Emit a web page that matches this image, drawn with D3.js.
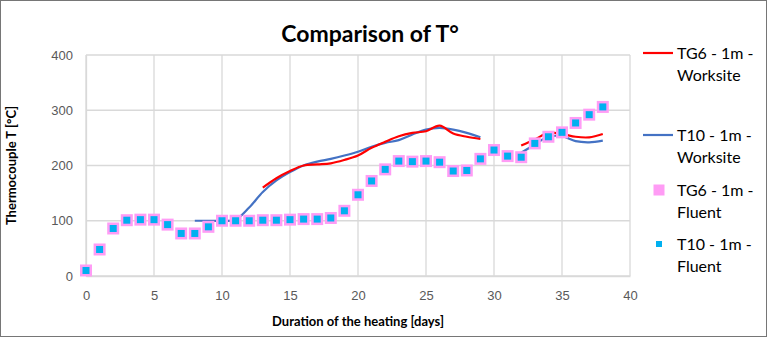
<!DOCTYPE html>
<html>
<head>
<meta charset="utf-8">
<script src="https://cdn.jsdelivr.net/npm/d3@7"></script>
<style>
  body { margin: 0; background: #fff; }
  svg { font-family: Lato, "Open Sans", sans-serif; }
</style>
</head>
<body>
<div id="chart-area"></div>
<script>
// Data
var days = d3.range(0, 39);
// TG6 worksite (red line), null = no reading
var tg6Worksite = [null, null, null, null, null, null, null, null, null, null, null, null, null,
    160, 177, 190, 200, 202, 204, 210, 218, 232, 243, 253, 259, 262, 272, 258, 252, 248,
    null, null, 236, 247, 259, 257, 252, 251, 257];
// T10 worksite (blue line)
var t10Worksite = [null, null, null, null, null, null, null, null,
    100, 100, 100, 102, 124, 152, 173, 188, 200, 207, 212, 218, 225, 234, 241, 246, 256, 265, 268, 265, 259, 251,
    null, null, 223, 238, 252, 253, 244, 242, 245];
// Fluent simulations (same values for both sensors)
var tg6Fluent = [10, 48, 86, 101, 102, 102, 93, 77, 77, 89, 100, 100, 100, 101, 101, 102, 103, 103, 105, 118,
    147, 172, 193, 208, 207, 208, 206, 190, 191, 212, 228, 217, 215, 240, 252, 260, 277, 292, 306];
var t10Fluent = tg6Fluent.slice();

var xTicks = [0, 5, 10, 15, 20, 25, 30, 35, 40];
var yTicks = [0, 100, 200, 300, 400];

var W = 767, H = 337;
var margin = { top: 55, right: 137, bottom: 61, left: 86 },
    width  = W - margin.left - margin.right,
    height = H - margin.top - margin.bottom;

var svg = d3.select("#chart-area")
    .append("svg")
    .attr("width", W)
    .attr("height", H);

// outer frame
svg.append("rect")
    .attr("x", 0.5).attr("y", 0.5)
    .attr("width", W - 1).attr("height", H - 1)
    .attr("fill", "#fff")
    .attr("stroke", "#767676");

var g = svg.append("g")
    .attr("transform", "translate(" + margin.left + "," + margin.top + ")");

var xScale = d3.scaleLinear().domain([0, 40]).range([0, width]);
var yScale = d3.scaleLinear().domain([0, 400]).range([height, 0]);

// gridlines
g.selectAll(".hgrid").data(yTicks).enter().append("line")
    .attr("x1", 0).attr("x2", width)
    .attr("y1", function(d) { return yScale(d); })
    .attr("y2", function(d) { return yScale(d); })
    .attr("stroke", "#d9d9d9").attr("stroke-width", 1.3);
g.selectAll(".vgrid").data(xTicks).enter().append("line")
    .attr("y1", 0).attr("y2", height)
    .attr("x1", function(d) { return xScale(d); })
    .attr("x2", function(d) { return xScale(d); })
    .attr("stroke", "#d9d9d9").attr("stroke-width", 1.3);

// axes
var xAxis = d3.axisBottom(xScale).tickValues(xTicks).tickSize(0).tickPadding(15);
var yAxis = d3.axisLeft(yScale).tickValues(yTicks).tickSize(0).tickPadding(13);

g.append("g")
    .attr("class", "x axis")
    .attr("transform", "translate(0," + height + ")")
    .call(xAxis)
    .call(function(s) { s.select(".domain").attr("stroke", "#d9d9d9").attr("stroke-width", 1.3); })
    .selectAll("text")
    .style("font-size", "13px")
    .attr("fill", "#595959");

g.append("g")
    .attr("class", "y axis")
    .call(yAxis)
    .call(function(s) { s.select(".domain").attr("stroke", "#d9d9d9").attr("stroke-width", 1.3); })
    .selectAll("text")
    .style("font-size", "13px")
    .attr("fill", "#595959");

// lines
var line = function(vals) {
    return d3.line()
        .defined(function(d, i) { return vals[i] != null; })
        .x(function(d, i) { return xScale(days[i]); })
        .y(function(d, i) { return yScale(vals[i]); })
        .curve(d3.curveCatmullRom.alpha(0.5))(vals);
};

g.append("path")
    .attr("d", line(t10Worksite))
    .attr("fill", "none")
    .attr("stroke", "#4472c4")
    .attr("stroke-width", 2.2);

g.append("path")
    .attr("d", line(tg6Worksite))
    .attr("fill", "none")
    .attr("stroke", "#ff0000")
    .attr("stroke-width", 2.2);

// markers
g.selectAll(".pink").data(tg6Fluent).enter().append("rect")
    .attr("x", function(d, i) { return xScale(days[i]) - 6; })
    .attr("y", function(d) { return yScale(d) - 6; })
    .attr("width", 12).attr("height", 12)
    .attr("fill", "#ff9cf5");

g.selectAll(".cyan").data(t10Fluent).enter().append("rect")
    .attr("x", function(d, i) { return xScale(days[i]) - 3.5; })
    .attr("y", function(d) { return yScale(d) - 3.5; })
    .attr("width", 7).attr("height", 7)
    .attr("fill", "#00b0f0");

// title
svg.append("text")
    .attr("x", 370).attr("y", 42)
    .attr("text-anchor", "middle")
    .style("font-size", "23px")
    .style("font-weight", "bold")
    .text("Comparison of T°");

// axis titles
svg.append("text")
    .attr("transform", "translate(16," + (margin.top + height / 2) + ") rotate(-90)")
    .attr("text-anchor", "middle")
    .style("font-size", "13px")
    .style("font-weight", "bold")
    .text("Thermocouple T [°C]");

svg.append("text")
    .attr("x", margin.left + width / 2).attr("y", 326)
    .attr("text-anchor", "middle")
    .style("font-size", "13px")
    .style("font-weight", "bold")
    .text("Duration of the heating [days]");

// legend
var legendItems = [
    { l1: "TG6 - 1m -", l2: "Worksite", type: "line", color: "#ff0000", y: 53 },
    { l1: "T10 - 1m -", l2: "Worksite", type: "line", color: "#4472c4", y: 135 },
    { l1: "TG6 - 1m -", l2: "Fluent", type: "big", color: "#ff9cf5", y: 190 },
    { l1: "T10 - 1m -", l2: "Fluent", type: "small", color: "#00b0f0", y: 244 }
];

var lg = svg.selectAll(".legend").data(legendItems).enter().append("g")
    .attr("class", "legend");

lg.each(function(d) {
    var s = d3.select(this);
    if (d.type === "line") {
        s.append("line")
            .attr("x1", 643).attr("x2", 673)
            .attr("y1", d.y).attr("y2", d.y)
            .attr("stroke", d.color).attr("stroke-width", 2.2);
    } else {
        var sz = d.type === "big" ? 11 : 6;
        s.append("rect")
            .attr("x", 659 - sz / 2).attr("y", d.y - sz / 2)
            .attr("width", sz).attr("height", sz)
            .attr("fill", d.color);
    }
    s.append("text")
        .attr("x", 677).attr("y", d.y + 6)
        .style("font-size", "16px")
        .attr("fill", "#000")
        .text(d.l1);
    s.append("text")
        .attr("x", 677).attr("y", d.y + 28)
        .style("font-size", "16px")
        .attr("fill", "#000")
        .text(d.l2);
});
</script>
</body>
</html>
